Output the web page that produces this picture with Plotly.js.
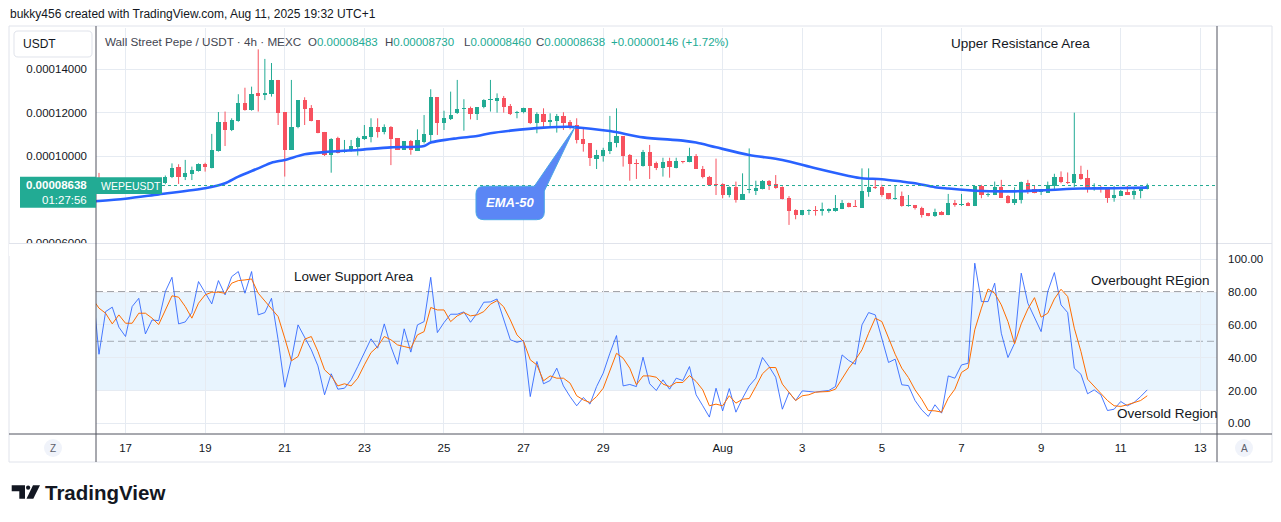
<!DOCTYPE html>
<html><head><meta charset="utf-8">
<script src="https://cdn.plot.ly/plotly-3.0.1.min.js"></script>
<style>html,body{margin:0;padding:0;background:#fff;overflow:hidden}#chart{width:1281px;height:522px}</style>
</head><body><div id="chart"></div>
<script>
// ---------------- DATA (prices in units of 1e-5 USDT) ----------------
const firstCandle = '2025-07-16T08:00:00Z';   // 4h candles
const openE5 = [9.00,8.70,8.82,8.72,8.86,8.92,8.80,8.93,8.86,8.92,
8.74,9.02,9.49,9.05,9.18,9.32,9.63,9.46,10.25,11.57,
11.20,11.63,12.46,12.12,12.89,12.82,12.86,13.51,12.03,10.28,
11.32,12.58,12.22,11.66,11.11,10.03,10.82,10.18,10.23,10.43,
10.80,10.89,11.32,11.11,11.32,10.82,10.28,10.69,10.25,10.66,
10.97,12.71,11.51,11.71,11.97,12.15,12.23,11.94,12.25,12.58,
12.55,12.69,12.31,11.98,12.02,12.20,11.51,11.92,11.58,11.60,
11.85,11.55,11.42,10.78,10.58,9.86,10.02,10.25,10.58,10.92,
10.05,9.66,9.54,10.18,9.66,9.46,9.77,9.46,9.77,9.71,
10.00,9.40,9.05,8.71,8.71,8.20,8.58,7.97,8.42,8.40,
8.49,8.85,8.69,8.58,8.08,7.51,7.26,7.48,7.51,7.48,
7.48,7.46,7.55,7.82,7.71,7.62,8.35,8.58,8.58,8.28,
8.00,8.16,7.71,7.74,7.61,7.35,7.24,7.43,7.27,7.85,
7.74,7.85,7.69,8.62,8.20,8.20,8.56,8.16,7.84,7.97,
8.74,8.48,8.34,8.31,8.62,9.02,8.82,8.74,9.18,8.98,
8.47,8.56,8.47,8.08,8.16,8.34,8.20,8.40,8.483];
const highE5 = [9.22,8.90,8.92,8.94,8.95,8.94,8.95,8.95,8.94,8.96,
9.10,9.66,9.62,9.82,9.51,9.66,9.69,11.02,12.03,12.05,
11.74,12.85,13.15,13.20,14.92,14.48,14.29,13.51,12.03,13.51,
12.58,12.71,12.35,11.66,11.11,10.82,10.89,10.74,10.74,10.89,
11.43,11.74,11.74,11.46,11.38,10.82,10.69,10.74,11.23,11.89,
13.08,12.71,12.09,12.97,13.51,12.62,12.28,12.26,12.62,13.51,
12.89,12.77,12.40,12.08,12.23,12.20,12.02,12.20,11.97,11.94,
12.02,11.66,11.74,11.28,10.58,10.28,10.38,11.85,12.20,10.92,
10.09,9.85,10.28,10.51,9.74,9.92,9.92,9.92,9.77,10.38,
10.09,9.54,9.08,9.88,8.74,8.60,8.82,9.20,10.35,8.86,
8.89,8.89,9.12,8.60,8.15,7.54,7.51,7.54,7.69,7.85,
7.58,8.20,7.97,7.85,7.97,9.43,9.43,8.97,8.67,8.28,
8.62,8.36,8.20,7.74,7.66,7.35,7.57,7.46,8.25,7.97,
8.25,7.88,8.62,8.67,8.31,8.82,8.90,8.20,8.56,8.82,
8.90,8.62,8.47,8.82,9.18,9.29,9.24,12.00,9.55,9.36,
8.74,8.62,8.51,8.62,8.43,8.62,8.51,8.53,8.730];
const lowE5 = [8.65,8.62,8.66,8.68,8.80,8.74,8.76,8.82,8.80,8.70,
8.70,8.98,8.71,8.89,8.89,9.28,9.28,9.43,10.20,10.46,
11.15,11.58,12.09,12.09,12.05,12.58,12.74,11.43,9.05,10.28,
11.28,11.43,11.60,11.05,10.00,9.23,10.12,10.15,10.20,10.02,
10.74,10.63,10.85,11.00,9.58,10.28,10.28,10.06,10.25,10.58,
10.58,10.97,11.20,11.66,11.94,11.17,11.69,11.66,12.20,12.05,
12.00,12.00,11.89,11.74,11.97,11.48,11.05,11.28,11.31,11.08,
11.20,11.23,10.58,10.20,9.54,9.40,9.74,10.09,10.40,9.51,
8.86,8.94,9.51,8.94,9.35,9.05,9.00,9.43,9.66,9.71,
9.40,8.97,8.63,8.20,8.05,8.09,7.85,7.97,8.28,8.20,
8.46,8.43,8.49,8.00,6.82,7.08,7.26,7.28,7.25,7.25,
7.38,7.43,7.55,7.63,7.66,7.62,8.12,8.48,8.12,8.00,
7.98,7.66,7.66,7.53,7.16,7.22,7.19,7.27,7.27,7.66,
7.69,7.69,7.69,8.05,8.12,8.20,8.06,7.81,7.74,7.81,
8.25,8.28,8.20,8.31,8.40,8.74,8.71,8.56,8.90,8.31,
8.40,8.31,7.84,7.89,8.16,8.20,8.00,8.05,8.460];
const closeE5 = [8.70,8.82,8.72,8.86,8.92,8.80,8.93,8.86,8.92,8.74,
9.02,9.46,9.05,9.23,9.35,9.63,9.51,10.28,11.57,11.20,
11.66,12.43,12.12,12.85,12.78,12.92,13.51,12.00,10.28,11.32,
12.58,12.17,11.63,11.08,10.03,10.78,10.14,10.28,10.46,10.82,
10.91,11.32,11.11,11.32,10.80,10.28,10.69,10.28,10.74,11.00,
12.71,11.51,11.74,11.89,12.15,12.20,11.94,12.26,12.57,12.63,
12.69,12.28,11.94,12.03,12.20,11.51,11.94,11.58,11.66,11.85,
11.54,11.35,10.74,10.55,9.89,10.05,10.28,10.63,10.92,10.00,
9.62,9.62,10.18,9.54,9.46,9.71,9.51,9.77,9.71,10.00,
9.40,9.02,8.66,8.66,8.20,8.58,7.97,8.25,8.46,8.52,
8.85,8.66,8.52,8.02,7.48,7.26,7.51,7.52,7.46,7.54,
7.54,7.62,7.82,7.66,7.66,8.38,8.58,8.51,8.20,8.00,
8.05,7.69,7.74,7.58,7.27,7.24,7.41,7.27,7.84,7.74,
7.79,7.71,8.62,8.20,8.25,8.56,8.06,7.84,8.00,8.78,
8.43,8.31,8.39,8.67,9.02,8.78,8.74,9.18,8.95,8.47,
8.56,8.47,8.08,8.20,8.40,8.20,8.40,8.53,8.638];
// EMA-50 read at selected candle indices
const emaIdx = [-1,4,9,16,19,21,24,26,28,31,34,39,44,49,50,54,57,59,62,67,71,72,77,82,88,90,93,98,103,108,113,115,118,121,123,126,128,132,138,143,148,153,158];
const emaE5  = [7.90,8.03,8.23,8.51,8.74,9.05,9.43,9.69,9.82,10.08,10.18,10.28,10.40,10.46,10.62,10.82,10.92,11.05,11.17,11.31,11.35,11.32,11.15,10.86,10.71,10.62,10.40,10.05,9.82,9.43,9.08,8.97,8.93,8.82,8.74,8.56,8.50,8.40,8.37,8.43,8.50,8.51,8.54];
// oscillator (starts one candle before the first visible candle)
const oscStart = -1;
const oscK = [85,42.1,68.1,70.8,58.6,52.9,71.2,76.2,54.5,63.0,62.6,
80.3,89.0,60.6,61.8,67.5,86.4,79.7,72.8,87.0,78.3,
89.4,92.5,79.3,92.5,66.1,67.5,76.2,50.9,22.0,38.7,
60.0,52.5,44.8,35.0,17.4,30.2,20.8,21.4,26.5,34.6,
42.7,51.5,45.8,60.6,46.8,36.0,57.6,43.4,60.0,62.0,
89.0,55.3,61.4,66.5,66.5,67.9,61.6,67.1,73.8,74.0,
75.8,63.0,50.9,49.4,50.5,16.3,37.7,24.1,26.1,33.6,
22.8,16.3,10.7,15.7,11.7,22.4,30.6,42.7,53.5,22.8,
23.7,22.4,40.3,24.1,20.0,26.5,20.8,27.5,26.1,34.6,
17.4,10.7,3.8,21.4,7.6,21.2,6.8,15.3,22.8,27.5,
40.1,34.6,28.1,8.6,18.8,13.9,19.8,19.4,19.0,19.6,
20.0,22.4,41.7,38.3,36.0,60.0,67.5,66.1,51.3,37.1,
39.1,23.5,23.0,13.9,8.2,4.2,11.3,6.2,28.9,27.5,
35.6,36.6,97.6,74.2,74.2,85.4,54.9,40.1,48.8,91.5,
73.2,64.1,55.9,80.3,91.9,72.2,67.5,33.6,29.9,18.0,
20.4,17.4,7.8,8.6,13.3,10.7,12.7,16.3,20.4];
const oscD = [76,70.2,67.1,60.6,66.1,61.0,61.0,67.1,67.1,64.1,60.2,
69.1,77.7,76.9,71.2,64.1,73.2,78.3,79.9,79.9,79.3,
85.4,87.0,87.4,88.0,79.3,74.6,70.2,65.1,51.9,38.1,
40.7,51.3,52.9,43.8,32.6,28.9,22.8,24.1,22.8,27.5,
35.6,43.1,46.8,52.9,50.9,47.8,46.8,45.8,53.9,55.9,
70.6,69.1,69.1,62.0,65.5,67.5,65.5,66.1,68.1,72.6,
74.8,71.0,63.0,53.9,49.8,38.7,35.6,25.9,28.9,27.5,
27.5,24.5,16.8,14.3,12.7,16.3,21.4,31.6,42.7,39.7,
33.6,23.5,28.9,28.9,28.1,23.9,22.4,24.9,24.9,29.1,
25.5,20.4,10.7,11.7,10.7,16.8,12.3,14.7,15.1,22.4,
30.2,34.0,34.0,23.9,18.8,13.9,16.8,17.4,19.0,19.4,
19.4,20.8,27.5,33.6,38.7,44.8,54.9,64.1,62.0,51.9,
42.1,33.6,27.9,20.4,14.7,7.8,7.6,6.8,15.3,20.8,
31.0,33.6,57.0,70.2,81.9,79.3,72.2,62.0,48.4,60.6,
69.7,76.6,64.7,67.1,75.8,81.7,77.3,58.0,43.8,26.9,
22.4,18.0,13.9,10.7,10.3,11.3,12.7,13.9,16.8];
const dayTicks  = ['2025-07-17','2025-07-19','2025-07-21','2025-07-23','2025-07-25','2025-07-27','2025-07-29','2025-08-01','2025-08-03','2025-08-05','2025-08-07','2025-08-09','2025-08-11','2025-08-13'];
const dayLabels = ['17','19','21','23','25','27','29','Aug','3','5','7','9','11','13'];
const priceTicksE5 = [6,8,10,12,14];
const hiddenPriceTickE5 = 8;   // covered by the last-price label in the reference
const oscTicks = [0,20,40,60,80,100];
const lastPriceE5 = 8.638;
const header = {name:'Wall Street Pepe / USDT · 4h · MEXC', O:'0.00008483', H:'0.00008730', L:'0.00008460', C:'0.00008638', chg:'+0.00000146 (+1.72%)'};

// ---------------- helpers ----------------
const E5 = 1e-5, H4 = 4*3600*1000;
const t0 = Date.parse(firstCandle);
const iso = ms => new Date(ms).toISOString().slice(0,16).replace('T',' ');
const tAt = k => iso(t0 + k*H4);
const PL=96, PR=1217, PT=28, PB=433;
const px = x => (x-PL)/(PR-PL);
const py = y => (PB-y)/(PB-PT);
const FONT = 'Liberation Sans, Arial, sans-serif';
const UP='#22ab94', DN='#f7525f', TXT='#131722';

// candles
const times = openE5.map((_,k)=>tAt(k));
const bodyH=[], bodyB=[], bodyC=[];
const wUpX=[],wUpY=[],wDnX=[],wDnY=[];
openE5.forEach((o,k)=>{
  const c=closeE5[k], up=c>=o;
  const lo=Math.min(o,c), hi=Math.max(o,c);
  const h=Math.max(hi-lo,0.04);
  bodyB.push((lo+hi)/2*E5 - h/2*E5); bodyH.push(h*E5); bodyC.push(up?UP:DN);
  const X= up?wUpX:wDnX, Y= up?wUpY:wDnY;
  X.push(times[k],times[k],null); Y.push(lowE5[k]*E5,highE5[k]*E5,null);
});
const oscTimes = oscK.map((_,i)=>tAt(i+oscStart));

const traces = [
  {type:'scatter',mode:'lines',x:wUpX,y:wUpY,line:{color:UP,width:1},xaxis:'x',yaxis:'y',hoverinfo:'skip'},
  {type:'scatter',mode:'lines',x:wDnX,y:wDnY,line:{color:DN,width:1},xaxis:'x',yaxis:'y',hoverinfo:'skip'},
  {type:'bar',x:times,y:bodyH,base:bodyB,width:0.64*H4,marker:{color:bodyC,line:{width:0}},xaxis:'x',yaxis:'y'},
  {type:'scatter',mode:'lines',x:emaIdx.map(tAt),y:emaE5.map(v=>v*E5),line:{color:'#2962ff',width:2.6,shape:'spline',smoothing:0.8},xaxis:'x',yaxis:'y'},
  {type:'scatter',mode:'lines',x:oscTimes,y:oscK,line:{color:'#2962ff',width:1},xaxis:'x',yaxis:'y2',opacity:0.85},
  {type:'scatter',mode:'lines',x:oscTimes,y:oscD,line:{color:'#ff6d00',width:1},xaxis:'x',yaxis:'y2'}
];

// shapes
function rectPx(x0,y0,x1,y1,o){return Object.assign({type:'rect',xref:'paper',yref:'paper',x0:px(x0),x1:px(x1),y0:py(y1),y1:py(y0)},o);}
function linePx(x0,y0,x1,y1,o){return Object.assign({type:'line',xref:'paper',yref:'paper',x0:px(x0),x1:px(x1),y0:py(y0),y1:py(y1)},o);}
function pathPx(cmds,o){
  const s=cmds.map(c=>typeof c==='string'?c:(px(c[0]).toFixed(5)+','+py(c[1]).toFixed(5))).join(' ');
  return Object.assign({type:'path',xref:'paper',yref:'paper',path:s},o);
}
function roundRectCmds(x0,y0,x1,y1,r){
  return ['M',[x0+r,y0],'L',[x1-r,y0],'Q',[x1,y0],[x1,y0+r],'L',[x1,y1-r],'Q',[x1,y1],[x1-r,y1],'L',[x0+r,y1],'Q',[x0,y1],[x0,y1-r],'L',[x0,y0+r],'Q',[x0,y0],[x0+r,y0],'Z'];
}
const shapes = [
  rectPx(9,26,1272,462,{line:{color:'#e0e3eb',width:1},fillcolor:'rgba(0,0,0,0)',layer:'below'}),
  {type:'rect',xref:'paper',yref:'y2',x0:0,x1:1,y0:20,y1:80,fillcolor:'rgba(33,150,243,0.1)',line:{width:0},layer:'below'},
  {type:'line',xref:'paper',yref:'y2',x0:0,x1:1,y0:80,y1:80,line:{color:'#4a4d57',width:1.2,dash:'7px,4px'},layer:'between'},
  {type:'line',xref:'paper',yref:'y2',x0:0,x1:1,y0:20,y1:20,line:{color:'#4a4d57',width:1.2,dash:'7px,4px'},layer:'between'},
  {type:'line',xref:'paper',yref:'y2',x0:0,x1:1,y0:50,y1:50,line:{color:'rgba(120,123,134,0.6)',width:1,dash:'7px,4px'},layer:'between'},
  {type:'line',xref:'paper',yref:'y',x0:0,x1:1,y0:lastPriceE5*E5,y1:lastPriceE5*E5,line:{color:UP,width:1,dash:'dot'},layer:'above'},
  rectPx(9,243.5,95.5,256,{fillcolor:'#ffffff',line:{width:0},layer:'above'}),
  linePx(9,243.5,1272,243.5,{line:{color:'#e0e3eb',width:1},layer:'above'}),
  linePx(96,26,96,462,{line:{color:'#50535e',width:1},layer:'above'}),
  linePx(1217,26,1217,462,{line:{color:'#50535e',width:1},layer:'above'}),
  linePx(9,434,1272,434,{line:{color:'#50535e',width:1},layer:'above'}),
  pathPx(roundRectCmds(14,31,92,57,4),{fillcolor:'#ffffff',line:{color:'#e0e3eb',width:1},layer:'above'}),
  rectPx(20,176.7,96,207.7,{fillcolor:UP,line:{width:0},layer:'above'}),
  rectPx(96,177.3,162,194,{fillcolor:UP,line:{width:0},layer:'above'}),
  pathPx(['M',[484,186.3],'L',[534.3,186.3],'L',[575,127],'L',[544.3,191],'L',[544.3,212],'Q',[544.3,219.7],[536.5,219.7],'L',[484,219.7],'Q',[476,219.7],[476,212],'L',[476,194],'Q',[476,186.3],[484,186.3],'Z'],{fillcolor:'#5b86f5',line:{color:'#4aa6e6',width:1},layer:'above'}),
  {type:'circle',xref:'paper',yref:'paper',x0:px(44),x1:px(62),y0:py(457),y1:py(439),fillcolor:'#f0f3fa',line:{width:0},layer:'above'},
  {type:'circle',xref:'paper',yref:'paper',x0:px(1235),x1:px(1253),y0:py(457),y1:py(439),fillcolor:'#f0f3fa',line:{width:0},layer:'above'},
  // logo
  pathPx(['M',[11.7,485.3],'L',[25,485.3],'L',[25,498.7],'L',[19.3,498.7],'L',[19.3,491.3],'L',[11.7,491.3],'Z'],{fillcolor:TXT,line:{width:0},layer:'above'}),
  {type:'circle',xref:'paper',yref:'paper',x0:px(26),x1:px(30.2),y0:py(489.8),y1:py(485.4),fillcolor:TXT,line:{width:0},layer:'above'},
  pathPx(['M',[33,485.3],'L',[40,485.3],'L',[33.3,498.7],'L',[26.5,498.7],'Z'],{fillcolor:TXT,line:{width:0},layer:'above'})
];

function ann(x,y,text,o){return Object.assign({xref:'paper',yref:'paper',x:px(x),y:py(y),text:text,showarrow:false,xanchor:'left',yanchor:'middle',borderpad:0,font:{family:FONT,size:12,color:TXT}},o||{});}
const teal = s=>'<span style="color:'+UP+'">'+s+'</span>';
const annotations = [
  ann(9,14,'bukky456 created with TradingView.com, Aug 11, 2025 19:32 UTC+1',{font:{family:FONT,size:12,color:TXT}}),
  ann(22,44,'USDT',{font:{family:FONT,size:12,color:TXT}}),
  ann(104,42,header.name,{font:{family:FONT,size:11.7,color:'#434651'}}),
  ann(307,42,'O'+teal(header.O),{font:{family:FONT,size:11.5,color:'#434651'}}),
  ann(384,42,'H'+teal(header.H),{font:{family:FONT,size:11.5,color:'#434651'}}),
  ann(463,42,'L'+teal(header.L),{font:{family:FONT,size:11.5,color:'#434651'}}),
  ann(535,42,'C'+teal(header.C),{font:{family:FONT,size:11.5,color:'#434651'}}),
  ann(610,42,teal(header.chg),{font:{family:FONT,size:11.5,color:'#434651'}}),
  ann(950,43,'Upper Resistance Area',{font:{family:FONT,size:13.5,color:TXT}}),
  ann(293,276,'Lower Support Area',{font:{family:FONT,size:13.5,color:TXT}}),
  ann(1090,280.5,'Overbought REgion',{font:{family:FONT,size:13.5,color:TXT}}),
  ann(1116,413,'Oversold Region',{font:{family:FONT,size:13.5,color:TXT}}),
  ann(88,185.5,'<b>'+(lastPriceE5*E5).toFixed(8)+'</b>',{xanchor:'right',font:{family:FONT,size:11.5,color:'#ffffff'}}),
  ann(88,200,'01:27:56',{xanchor:'right',font:{family:FONT,size:11.5,color:'#ffffff'}}),
  ann(100,185.7,'WEPEUSDT',{font:{family:FONT,size:10.5,color:'#ffffff'}}),
  ann(510,202.5,'<b><i>EMA-50</i></b>',{xanchor:'center',font:{family:FONT,size:13,color:'#ffffff'}}),
  ann(53,448,'Z',{xanchor:'center',font:{family:FONT,size:10,color:'#5d606b'}}),
  ann(1244,448,'A',{xanchor:'center',font:{family:FONT,size:10,color:'#5d606b'}}),
  ann(43.5,492,'<b>TradingView</b>',{font:{family:FONT,size:20.5,color:TXT}})
];

const GRID='#e6ebf2';
const layout = {
  width:1281,height:522,margin:{l:PL,r:1281-PR,t:PT,b:522-PB,pad:0},
  paper_bgcolor:'#ffffff',plot_bgcolor:'#ffffff',showlegend:false,hovermode:false,bargap:0,barmode:'overlay',
  font:{family:FONT,size:12,color:TXT},
  xaxis:{type:'date',range:['2025-07-16 06:12','2025-08-13 10:02'],anchor:'y2',tickvals:dayTicks,ticktext:dayLabels,
    showgrid:true,gridcolor:GRID,gridwidth:1,zeroline:false,showline:false,ticks:'',tickfont:{family:FONT,size:11.5,color:TXT},ticklabelstandoff:6,fixedrange:true},
  yaxis:{domain:[(PB-243)/(PB-PT),1],range:[5.986*E5,15.906*E5],side:'left',anchor:'x',tickvals:priceTicksE5.map(v=>v*E5),
    ticktext:priceTicksE5.map(v=>v===hiddenPriceTickE5?'':(v*E5).toFixed(8)),showgrid:true,gridcolor:GRID,zeroline:false,showline:false,ticks:'',
    tickfont:{family:FONT,size:11.5,color:TXT},ticklabelstandoff:8,fixedrange:true},
  yaxis2:{domain:[0,(PB-244)/(PB-PT)],range:[-5.9,109.3],side:'right',anchor:'x',tickvals:oscTicks,ticktext:oscTicks.map(v=>v.toFixed(2)),
    showgrid:true,gridcolor:GRID,zeroline:false,showline:false,ticks:'',tickfont:{family:FONT,size:11.5,color:TXT},ticklabelstandoff:10,fixedrange:true},
  shapes:shapes,annotations:annotations
};
Plotly.newPlot('chart',traces,layout,{staticPlot:true,displayModeBar:false});
</script></body></html>
